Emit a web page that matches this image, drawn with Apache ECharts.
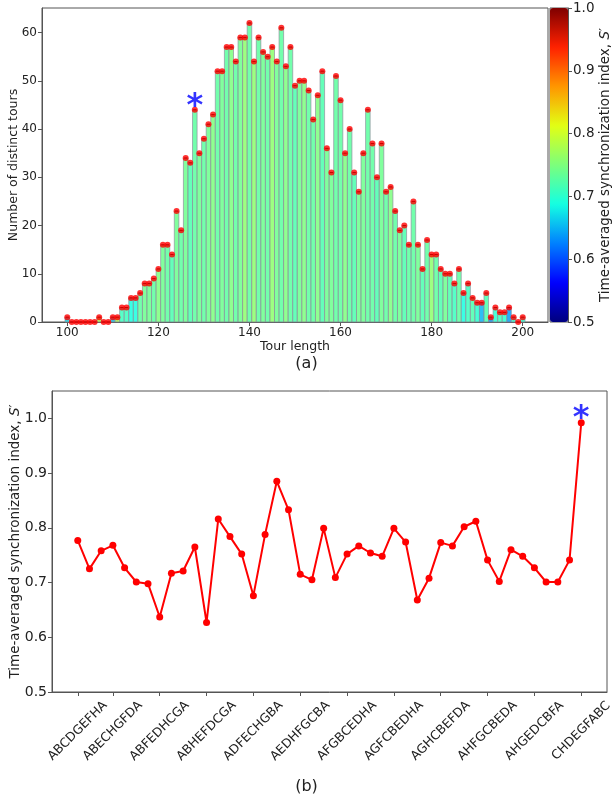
<!DOCTYPE html>
<html>
<head>
<meta charset="utf-8">
<script src="https://cdn.jsdelivr.net/npm/echarts@6/dist/echarts.min.js"></script>
<style>
html, body { margin: 0; padding: 0; background: #fff; }
#chart { width: 613px; height: 798px; }
</style>
</head>
<body>
<div id="chart"></div>
<script>
// (a) histogram: tour lengths 100..200
var firstLength = 100;
var tourCounts = [
    1, 0, 0, 0, 0, 0, 0, 1, 0, 0,
    1, 1, 3, 3, 5, 5, 6, 8, 8, 9,
    11, 16, 16, 14, 23, 19, 34, 33, 44, 35,
    38, 41, 43, 52, 52, 57, 57, 54, 59, 59,
    62, 54, 59, 56, 55, 57, 54, 61, 53, 57,
    49, 50, 50, 48, 42, 47, 52, 36, 31, 51,
    46, 35, 40, 31, 27, 35, 44, 37, 30, 37,
    27, 28, 23, 19, 20, 16, 25, 16, 11, 17,
    14, 14, 11, 10, 10, 8, 11, 6, 8, 5,
    4, 4, 6, 1, 3, 2, 2, 3, 1, 0,
    1
];
var tourSync = [
    0.67, 0.72, 0.72, 0.72, 0.72, 0.72, 0.72, 0.78, 0.72, 0.72,
    0.66, 0.77, 0.71, 0.71, 0.69, 0.69, 0.73, 0.74, 0.74, 0.73,
    0.75, 0.74, 0.73, 0.72, 0.74, 0.73, 0.74, 0.72, 0.73, 0.74,
    0.73, 0.74, 0.75, 0.73, 0.74, 0.73, 0.75, 0.73, 0.74, 0.76,
    0.73, 0.76, 0.73, 0.74, 0.73, 0.76, 0.74, 0.73, 0.75, 0.73,
    0.72, 0.74, 0.75, 0.73, 0.73, 0.75, 0.72, 0.74, 0.74, 0.73,
    0.73, 0.75, 0.73, 0.72, 0.74, 0.74, 0.73, 0.73, 0.72, 0.74,
    0.73, 0.75, 0.73, 0.74, 0.72, 0.73, 0.73, 0.74, 0.72, 0.73,
    0.76, 0.73, 0.72, 0.74, 0.72, 0.71, 0.73, 0.69, 0.71, 0.72,
    0.70, 0.65, 0.72, 0.64, 0.70, 0.71, 0.70, 0.64, 0.70, 0.72,
    0.70
];
var lengthTicks = [100, 120, 140, 160, 180, 200];
var countTicks = [0, 10, 20, 30, 40, 50, 60];
var colorbarTicks = [0.5, 0.6, 0.7, 0.8, 0.9, 1.0];
var starA = [[128, 46.3]];

// (b) synchronization index per tour
var tourSyncIndex = [
    0.777, 0.725, 0.758, 0.768, 0.727, 0.701, 0.698, 0.637, 0.717, 0.721,
    0.765, 0.627, 0.816, 0.784, 0.752, 0.676, 0.788, 0.885, 0.833, 0.715,
    0.705, 0.799, 0.709, 0.752, 0.767, 0.754, 0.748, 0.799, 0.774, 0.668,
    0.708, 0.773, 0.767, 0.802, 0.812, 0.741, 0.702, 0.760, 0.748, 0.727,
    0.701, 0.701, 0.741, 0.992
];
var tourNames = ['ABCDGEFHA', 'ABECHGFDA', 'ABFEDHCGA', 'ABHEFDCGA', 'ADFECHGBA', 'AEDHFGCBA',
    'AFGBCEDHA', 'AGFCBEDHA', 'AGHCBEFDA', 'AHFGCBEDA', 'AHGEDCBFA', 'CHDEGFABC'];
var tourNamePos = [0, 3, 7, 11, 15, 19, 23, 27, 31, 35, 39, 43];
var syncTicks = [0.5, 0.6, 0.7, 0.8, 0.9, 1.0];
var starB = [[43, 1.014]];

// jet colormap samples
var jet = ['#00007f', '#0000ff', '#0080ff', '#14ffe2', '#7cff7c', '#e2ff14', '#ff9600', '#ff2100', '#7f0000'];

var font = 'DejaVu Sans';
var txt = '#222';
var axisGray = '#555';

var histData = [];
var dotData = [];
for (var i = 0; i < tourCounts.length; i++) {
    histData.push([firstLength + i, tourCounts[i], tourSync[i]]);
    dotData.push([firstLength + i, tourCounts[i]]);
}
var lineData = [];
for (var j = 0; j < tourSyncIndex.length; j++) {
    lineData.push([j, tourSyncIndex[j]]);
}

function renderBar(params, api) {
    var x = api.value(0), n = api.value(1);
    var p0 = api.coord([x - 0.5, n]);
    var p1 = api.coord([x + 0.5, 0]);
    var c0 = api.coord([x - 0.35, n]);
    var c1 = api.coord([x + 0.35, n]);
    return {
        type: 'group',
        children: [{
            type: 'rect',
            shape: {x: p0[0], y: p0[1], width: p1[0] - p0[0], height: p1[1] - p0[1]},
            style: {fill: api.visual('color'), opacity: 0.85, stroke: '#8d8d9b', lineWidth: 0.8}
        }, {
            type: 'line',
            shape: {x1: c0[0], y1: c0[1], x2: c1[0], y2: c1[1]},
            style: {stroke: '#000', lineWidth: 1}
        }]
    };
}

var sName = 'Time-averaged synchronization index, {it|S}′';
var starLabel = {show: true, position: 'inside', formatter: '*', fontSize: 32, fontWeight: 'bold',
    fontFamily: font, color: '#0000ff', offset: [0, 8]};

var chart = echarts.init(document.getElementById('chart'));
var option = {
    animation: false,
    textStyle: {fontFamily: font},
    grid: [
        {left: 42, top: 8, width: 506, height: 314, show: true, borderColor: axisGray, borderWidth: 1, outerBoundsMode: 'none'},
        {left: 52, top: 391, width: 555, height: 301, show: true, borderColor: axisGray, borderWidth: 1, outerBoundsMode: 'none'},
        {left: 550, top: 8, width: 18, height: 314, show: true, borderColor: axisGray, borderWidth: 1,
            backgroundColor: 'transparent', outerBoundsMode: 'none'}
    ],
    xAxis: [{
        type: 'value', gridIndex: 0, min: 94.45, max: 205.55,
        name: 'Tour length', nameLocation: 'middle', nameGap: 17,
        nameTextStyle: {fontSize: 12.5, color: txt, fontFamily: font},
        axisLine: {lineStyle: {color: axisGray}},
        axisTick: {customValues: lengthTicks, length: 4, lineStyle: {color: axisGray}},
        axisLabel: {customValues: lengthTicks, fontSize: 12, color: txt, margin: 5},
        splitLine: {show: false}
    }, {
        type: 'value', gridIndex: 1, min: -2.2, max: 45.2,
        axisLine: {onZero: false, lineStyle: {color: axisGray}},
        axisTick: {customValues: tourNamePos, length: 4, lineStyle: {color: axisGray}},
        axisLabel: {
            customValues: tourNamePos, rotate: 45, fontSize: 12.5, color: txt, margin: 39,
            align: 'center', verticalAlign: 'middle',
            formatter: function (v) { return tourNames[tourNamePos.indexOf(Math.round(v))] || ''; }
        },
        splitLine: {show: false}
    }, {
        type: 'value', gridIndex: 2, min: 0, max: 1, show: false
    }],
    yAxis: [{
        type: 'value', gridIndex: 0, min: 0, max: 65.1,
        name: 'Number of distinct tours', nameLocation: 'middle', nameGap: 22, nameMoveOverlap: false,
        nameTextStyle: {fontSize: 12.5, color: txt, fontFamily: font},
        axisLine: {show: true, onZero: false, lineStyle: {color: axisGray}},
        axisTick: {show: true, customValues: countTicks, length: 4, lineStyle: {color: axisGray}},
        axisLabel: {customValues: countTicks, fontSize: 12, color: txt, margin: 5},
        splitLine: {show: false}
    }, {
        type: 'value', gridIndex: 1, min: 0.5, max: 1.05,
        name: sName, nameLocation: 'middle', nameGap: 30, nameMoveOverlap: false,
        nameTextStyle: {fontSize: 13.5, color: txt, fontFamily: font,
            rich: {it: {fontStyle: 'italic', fontSize: 13.5, color: txt, fontFamily: font}}},
        axisLine: {show: true, onZero: false, lineStyle: {color: axisGray}},
        axisTick: {show: true, customValues: syncTicks, length: 4, lineStyle: {color: axisGray}},
        axisLabel: {customValues: syncTicks, fontSize: 14, color: txt, margin: 5,
            formatter: function (v) { return v.toFixed(1); }},
        splitLine: {show: false}
    }, {
        type: 'value', gridIndex: 2, min: 0.5, max: 1.0, position: 'right',
        name: sName, nameLocation: 'middle', nameGap: 30, nameRotate: 90, nameMoveOverlap: false,
        nameTextStyle: {fontSize: 13.5, color: txt, fontFamily: font,
            rich: {it: {fontStyle: 'italic', fontSize: 13.5, color: txt, fontFamily: font}}},
        axisLine: {show: true, onZero: false, lineStyle: {color: axisGray}},
        axisTick: {show: true, customValues: colorbarTicks, length: 4, lineStyle: {color: axisGray}},
        axisLabel: {customValues: colorbarTicks, fontSize: 13.5, color: txt, margin: 5,
            formatter: function (v) { return v.toFixed(1); }},
        splitLine: {show: false}
    }],
    visualMap: {
        type: 'continuous', min: 0.5, max: 1.0, dimension: 2, seriesIndex: 0,
        orient: 'vertical', left: 550, top: 8, itemWidth: 18, itemHeight: 314,
        padding: 0, calculable: false, hoverLink: false,
        inRange: {color: jet}
    },
    graphic: [
        {type: 'text', left: 'center', top: 356, style: {text: '(a)', fill: txt, font: '16px "DejaVu Sans"'}},
        {type: 'text', left: 'center', top: 779, style: {text: '(b)', fill: txt, font: '16px "DejaVu Sans"'}}
    ],
    series: [{
        type: 'custom', xAxisIndex: 0, yAxisIndex: 0,
        renderItem: renderBar,
        encode: {x: 0, y: 1},
        data: histData,
        z: 2
    }, {
        type: 'scatter', xAxisIndex: 0, yAxisIndex: 0,
        data: dotData, symbol: 'circle', symbolSize: 6,
        itemStyle: {color: '#ff0000'}, z: 3
    }, {
        type: 'scatter', xAxisIndex: 0, yAxisIndex: 0,
        data: starA, symbolSize: 1, itemStyle: {color: 'rgba(0,0,0,0)'},
        label: starLabel, z: 4
    }, {
        type: 'line', xAxisIndex: 1, yAxisIndex: 1,
        data: lineData, symbol: 'circle', symbolSize: 7, showSymbol: true,
        lineStyle: {color: '#ff0000', width: 2},
        itemStyle: {color: '#ff0000'}
    }, {
        type: 'scatter', xAxisIndex: 1, yAxisIndex: 1,
        data: starB, symbolSize: 1, itemStyle: {color: 'rgba(0,0,0,0)'},
        label: starLabel, z: 4
    }]
};
chart.setOption(option);
</script>
</body>
</html>
